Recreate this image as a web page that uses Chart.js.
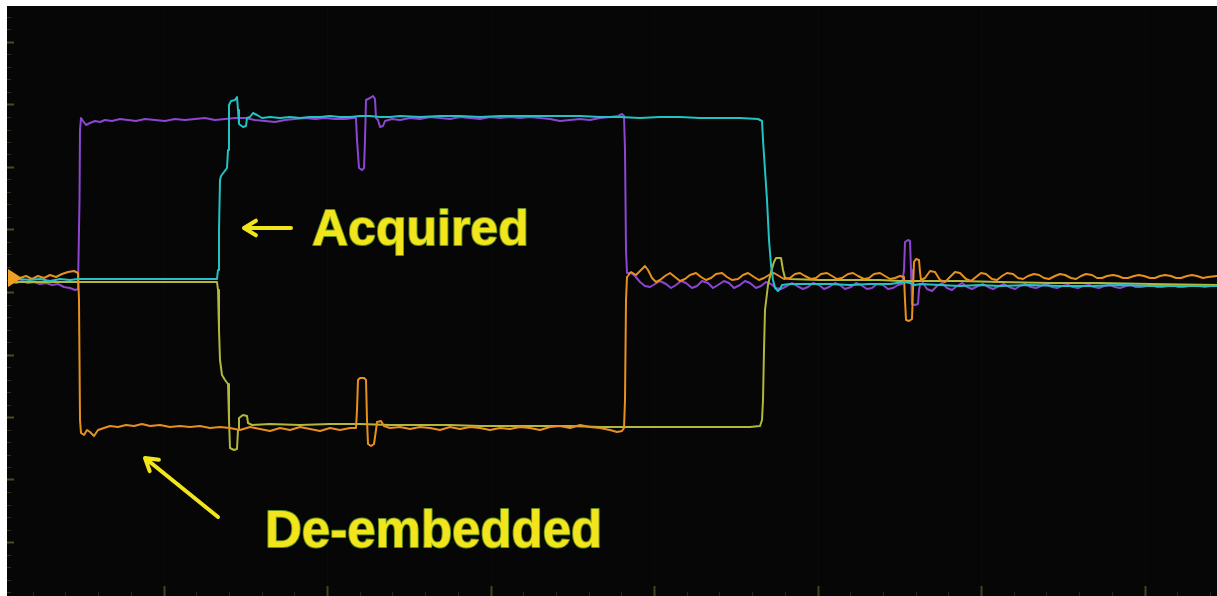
<!DOCTYPE html>
<html>
<head>
<meta charset="utf-8">
<style>
  html, body { margin: 0; padding: 0; background: #ffffff; }
  #wrap { position: relative; width: 1217px; height: 596px; }
</style>
<script src="https://cdn.jsdelivr.net/npm/chart.js@4.4.1/dist/chart.umd.min.js"></script>
</head>
<body>
<div id="wrap"><canvas id="scope"></canvas></div>
<script>
// Time axis in ns, amplitude in mV.
// Acquired channel 1 (violet trace)
const acquired1_t = [0.3,0.9,1.5,2.1,2.7,3.3,3.9,4.5,5.1,5.7,6.3,6.8,7.1,7.25,7.3,7.4,7.6,7.9,8.3,8.8,9.3,9.8,10.5,11.3,12.1,12.9,13.8,14.8,15.8,16.8,17.8,18.8,19.8,20.8,21.8,22.8,23.8,24.8,25.8,26.8,27.8,28.8,29.8,30.8,31.8,32.8,33.8,34.7,34.9,35.0,35.2,35.5,35.7,35.8,35.9,36.3,36.6,36.8,36.9,37.1,37.3,37.6,37.8,38.5,39.3,40.3,41.3,42.3,43.3,44.3,45.3,46.3,47.3,48.3,49.3,50.3,51.3,52.3,53.3,54.3,55.3,56.3,57.3,58.3,59.3,60.3,61.1,61.5,61.7,61.8,61.9,62.0,62.4,62.8,63.3,63.8,64.3,64.8,65.3,65.9,66.4,66.9,67.4,67.9,68.5,69.0,69.5,70.1,70.6,71.1,71.7,72.2,72.7,73.3,73.8,74.3,74.9,75.4,75.9,76.4,76.9,77.4,78.0,78.5,79.0,79.6,80.1,80.6,81.2,81.7,82.2,82.8,83.3,83.8,84.4,84.9,85.4,86.0,86.5,87.0,87.6,88.1,88.6,89.1,89.5,89.7,89.8,90.1,90.3,90.4,90.5,90.8,91.1,91.2,91.3,91.6,92.0,92.5,93.0,93.5,94.0,94.5,95.0,95.5,96.0,96.5,97.1,97.6,98.1,98.6,99.2,99.7,100.2,100.8,101.3,101.8,102.4,102.9,103.4,103.9,104.5,105.0,105.5,106.1,106.6,107.1,107.6,108.2,108.7,109.2,109.7,110.3,110.8,111.3,111.9,112.4,112.9,113.4,114.0,114.5,115.0,115.5,116.1,116.6,117.1,117.6,118.2,118.7,119.2,119.8,120.3,121.0];
const acquired1_mV = [-2,-6,-2,-6,-4,-8,-6,-10,-8,-14,-16,-20,-18,160,300,324,318,310,314,318,316,320,318,322,320,318,322,320,318,322,320,322,324,320,322,324,324,320,318,316,320,322,324,322,324,322,322,324,324,280,224,220,224,280,360,364,368,362,324,320,306,308,318,322,320,324,322,326,324,322,326,324,322,326,324,326,324,326,324,322,318,320,322,320,324,326,328,332,328,260,60,14,14,8,-4,-12,-14,-8,-2,-8,-16,-10,-2,-6,-16,-12,-2,-6,-16,-10,-2,-6,-16,-10,-2,-6,-16,-12,-4,-8,-16,-18,-12,-6,-12,-18,-14,-6,-10,-18,-14,-6,-10,-18,-14,-6,-10,-18,-16,-8,-10,-18,-16,-10,-8,20,76,80,78,20,-48,-50,-48,-20,-10,-6,-18,-22,-12,-6,-16,-20,-12,-6,-14,-18,-12,-8,-14,-18,-12,-8,-14,-18,-12,-8,-14,-16,-12,-8,-14,-16,-12,-10,-14,-16,-12,-10,-14,-16,-12,-10,-14,-16,-12,-10,-14,-14,-12,-10,-14,-14,-12,-10,-14,-14,-12,-10,-12,-14,-12,-12];

// Acquired channel 2 (cyan trace)
const acquired2_t = [0.3,1.3,2.3,3.3,4.3,5.3,6.3,7.1,8.3,11.3,14.3,17.3,20.3,21.0,21.1,21.2,21.3,21.4,21.7,22.0,22.1,22.2,22.4,22.8,23.0,23.1,23.2,23.6,23.9,24.0,24.3,24.6,25.0,25.5,26.3,27.3,28.3,29.3,30.3,31.3,32.3,33.3,34.3,35.3,36.3,37.3,38.3,39.3,41.3,43.3,45.3,47.3,49.3,51.3,53.3,55.3,57.3,59.3,61.3,63.3,65.3,67.3,69.3,71.3,73.3,75.1,75.5,75.6,75.8,76.0,76.2,76.4,76.6,76.8,77.1,77.3,77.5,78.3,80.3,82.3,84.3,86.3,88.3,89.8,90.3,90.8,91.3,93.3,95.3,97.3,99.3,102.3,105.3,108.3,111.3,114.3,117.3,121.0];
const acquired2_mV = [0,2,0,2,-2,2,0,2,2,2,2,2,2,2,20,100,200,208,216,224,260,350,358,360,366,340,312,306,308,324,326,334,330,324,326,324,326,324,326,326,328,326,326,328,328,326,326,328,326,328,328,326,328,328,328,328,328,326,326,324,326,326,324,324,324,322,318,280,220,160,80,30,0,-16,-22,-18,-10,-8,-8,-8,-10,-8,-8,-4,-6,-10,-8,-10,-12,-10,-12,-10,-12,-12,-10,-12,-12,-12];

// De-embedded channel 1 (orange trace)
const deembedded1_t = [1.3,1.9,2.5,3.1,3.7,4.3,4.9,5.5,6.1,6.7,7.1,7.2,7.3,7.4,7.7,8.0,8.3,8.7,9.1,9.7,10.3,11.1,11.9,12.7,13.5,14.3,15.3,16.3,17.3,18.3,19.3,20.3,21.3,22.3,23.3,24.3,25.3,26.3,27.3,28.3,29.3,30.3,31.3,32.3,33.3,34.3,34.9,35.0,35.1,35.3,35.7,35.9,36.0,36.1,36.4,36.7,36.9,37.0,37.4,37.7,38.3,39.3,40.3,41.3,42.3,43.3,44.3,45.3,46.3,47.3,48.3,49.3,50.3,51.3,52.3,53.3,54.3,55.3,56.3,57.3,58.3,59.3,60.3,61.0,61.5,61.7,61.8,61.9,62.0,62.4,62.9,63.4,63.8,64.1,64.5,64.9,65.3,65.8,66.3,66.8,67.3,67.8,68.3,68.9,69.4,69.9,70.4,70.9,71.5,72.0,72.5,73.1,73.6,74.1,74.7,75.2,75.7,76.2,76.7,77.2,77.7,78.3,78.8,79.3,79.8,80.4,80.9,81.4,82.0,82.5,83.0,83.5,84.1,84.6,85.1,85.7,86.2,86.7,87.3,87.8,88.3,88.8,89.3,89.7,89.8,89.9,90.2,90.5,90.6,90.7,90.9,91.2,91.3,91.4,91.8,92.3,92.8,93.3,93.8,94.3,94.8,95.3,95.9,96.4,96.9,97.4,97.9,98.5,99.0,99.5,100.0,100.6,101.1,101.6,102.1,102.7,103.2,103.7,104.2,104.8,105.3,105.8,106.4,106.9,107.4,107.9,108.5,109.0,109.5,110.0,110.6,111.1,111.6,112.1,112.7,113.2,113.7,114.3,114.8,115.3,115.8,116.4,116.9,117.4,118.0,118.5,119.0,119.6,120.1,121.0];
const deembedded1_mV = [4,8,2,8,4,10,6,12,16,18,14,-40,-280,-306,-310,-300,-304,-312,-300,-296,-292,-294,-290,-292,-288,-292,-290,-294,-292,-294,-292,-296,-294,-296,-300,-294,-298,-302,-296,-300,-294,-298,-302,-296,-300,-296,-296,-260,-200,-196,-196,-200,-280,-328,-332,-328,-300,-284,-282,-292,-296,-294,-298,-294,-296,-300,-294,-298,-294,-296,-300,-296,-298,-294,-296,-300,-294,-292,-296,-290,-294,-296,-300,-304,-302,-296,-240,-40,6,16,10,20,28,20,4,-4,0,8,14,6,-2,2,10,14,6,0,4,12,14,6,0,2,10,14,6,0,4,10,14,8,2,4,12,14,8,2,4,12,14,8,2,4,12,14,8,2,4,12,14,8,2,4,8,6,-40,-80,-82,-78,-20,36,42,40,16,0,4,18,16,0,-4,6,16,14,2,-2,6,14,12,2,0,8,14,12,4,2,8,12,10,4,2,8,12,10,4,2,8,12,10,4,4,8,10,8,4,4,8,10,8,4,4,8,10,8,4,4,8,10,8,4,6,8];

// De-embedded channel 2 (olive trace)
const deembedded2_t = [0.3,2.3,4.3,7.1,9.3,12.3,15.3,18.3,21.0,21.1,21.2,21.3,21.5,21.8,22.1,22.2,22.3,22.7,23.0,23.1,23.2,23.6,24.0,24.1,24.5,26.3,29.3,32.3,35.3,38.3,41.3,44.3,47.3,50.3,53.3,56.3,59.3,63.3,67.3,71.3,74.3,75.3,75.5,75.6,75.7,75.8,76.1,76.4,76.7,76.9,77.4,77.6,77.8,78.3,81.3,84.3,87.3,89.3,92.3,95.3,99.3,104.3,109.3,114.3,121.0];
const deembedded2_mV = [-4,-4,-4,-4,-4,-4,-4,-4,-4,-20,-100,-160,-190,-200,-208,-280,-336,-340,-338,-300,-276,-270,-272,-286,-290,-288,-290,-288,-288,-290,-290,-290,-292,-292,-292,-292,-294,-294,-294,-294,-294,-292,-280,-240,-140,-60,-10,16,36,44,44,20,4,2,0,0,0,-2,-2,-2,-4,-6,-6,-8,-10];

// Screen extents and graticule (1 div = 16.35 ns x 125 mV, 5 minor ticks per div)
const timeRange = [0, 121];
const ampRange = [-632, 548];
const gratTime = { ref: -0.7, div: 16.35 };
const gratAmp = { ref: -24, div: 125 };
const groundLevel_mV = 4;

const zip = (t, v) => t.map((x, i) => ({ x, y: v[i] }));

const scopePlugin = {
  id: 'scopeScreen',
  beforeDraw(chart) {
    const { ctx, chartArea: a, scales: { x, y } } = chart;
    ctx.save();
    ctx.fillStyle = '#060606';
    ctx.fillRect(a.left, a.top, a.right - a.left, a.bottom - a.top);

    // vertical graticule ticks along the left edge
    const yMinor = gratAmp.div / 5;
    const iy0 = Math.ceil((ampRange[0] - gratAmp.ref) / yMinor);
    const iy1 = Math.floor((ampRange[1] - gratAmp.ref) / yMinor);
    for (let i = iy0; i <= iy1; i++) {
      const major = i % 5 === 0;
      const py = Math.round(y.getPixelForValue(gratAmp.ref + i * yMinor)) + 0.5;
      ctx.strokeStyle = major ? 'rgba(100,90,40,0.8)' : 'rgba(70,64,32,0.7)';
      ctx.lineWidth = major ? 2 : 1;
      ctx.beginPath();
      ctx.moveTo(a.left, py);
      ctx.lineTo(a.left + (major ? 7 : 4), py);
      ctx.stroke();
    }

    // horizontal graticule ticks along the bottom edge
    const xMinor = gratTime.div / 5;
    const ix0 = Math.ceil((timeRange[0] - gratTime.ref) / xMinor);
    const ix1 = Math.floor((timeRange[1] - gratTime.ref) / xMinor);
    for (let i = ix0; i <= ix1; i++) {
      const major = i % 5 === 0;
      const px = Math.round(x.getPixelForValue(gratTime.ref + i * xMinor)) + 0.5;
      ctx.strokeStyle = major ? 'rgba(95,86,40,0.75)' : 'rgba(70,64,32,0.6)';
      ctx.lineWidth = major ? 2 : 1;
      ctx.beginPath();
      ctx.moveTo(px, a.bottom);
      ctx.lineTo(px, a.bottom - (major ? 10 : 4));
      ctx.stroke();
      if (major) {
        ctx.strokeStyle = 'rgba(80,76,45,0.07)';
        ctx.lineWidth = 1;
        ctx.beginPath();
        ctx.moveTo(px, a.top);
        ctx.lineTo(px, a.bottom - 10);
        ctx.stroke();
      }
    }
    ctx.restore();
  },
  afterDatasetsDraw(chart) {
    const { ctx, chartArea: a, scales: { x, y } } = chart;
    ctx.save();

    // ground level marker
    const gy = y.getPixelForValue(groundLevel_mV);
    ctx.fillStyle = '#f0a020';
    ctx.beginPath();
    ctx.moveTo(a.left + 1, gy - 9);
    ctx.lineTo(a.left + 15, gy);
    ctx.lineTo(a.left + 1, gy + 9);
    ctx.closePath();
    ctx.fill();

    const yellow = '#f3e51c';
    const edge = 'rgba(110,160,30,0.9)';

    function arrow(tx, ty, fx, fy) {
      const x1 = x.getPixelForValue(tx), y1 = y.getPixelForValue(ty);
      const x0 = x.getPixelForValue(fx), y0 = y.getPixelForValue(fy);
      const ang = Math.atan2(y1 - y0, x1 - x0);
      const head = 14, spread = 0.55;
      ctx.strokeStyle = yellow;
      ctx.lineWidth = 4;
      ctx.lineCap = 'round';
      ctx.lineJoin = 'round';
      ctx.beginPath();
      ctx.moveTo(x0, y0);
      ctx.lineTo(x1, y1);
      ctx.moveTo(x1 - head * Math.cos(ang - spread), y1 - head * Math.sin(ang - spread));
      ctx.lineTo(x1, y1);
      ctx.lineTo(x1 - head * Math.cos(ang + spread), y1 - head * Math.sin(ang + spread));
      ctx.stroke();
    }

    function label(text, tx, ty, size) {
      const px = x.getPixelForValue(tx), py = y.getPixelForValue(ty);
      ctx.font = 'bold ' + size + 'px "Liberation Sans", Arial, sans-serif';
      ctx.textBaseline = 'alphabetic';
      ctx.textAlign = 'left';
      ctx.lineWidth = 2;
      ctx.strokeStyle = edge;
      ctx.strokeText(text, px, py);
      ctx.fillStyle = yellow;
      ctx.fillText(text, px, py);
    }

    arrow(23.7, 104, 28.4, 104);
    label('Acquired', 30.5, 70, 50);
    arrow(13.8, -356, 21.1, -474);
    label('De-embedded', 25.8, -534, 51);

    ctx.restore();
  }
};

const lineStyle = {
  borderWidth: 2,
  pointRadius: 0,
  tension: 0,
  borderJoinStyle: 'round',
  fill: false
};

new Chart(document.getElementById('scope'), {
  type: 'line',
  data: {
    datasets: [
      { label: 'Acquired CH2', data: zip(acquired2_t, acquired2_mV), borderColor: '#24c3c3', order: 1, ...lineStyle },
      { label: 'De-embedded CH1', data: zip(deembedded1_t, deembedded1_mV), borderColor: '#e8901e', order: 2, ...lineStyle },
      { label: 'De-embedded CH2', data: zip(deembedded2_t, deembedded2_mV), borderColor: '#b2b83a', order: 3, ...lineStyle },
      { label: 'Acquired CH1', data: zip(acquired1_t, acquired1_mV), borderColor: '#8c46d2', order: 4, ...lineStyle }
    ]
  },
  options: {
    responsive: true,
    maintainAspectRatio: false,
    animation: false,
    parsing: true,
    layout: { padding: { left: 7, top: 6, right: 0, bottom: 0 } },
    plugins: { legend: { display: false }, tooltip: { enabled: false } },
    scales: {
      x: { type: 'linear', min: timeRange[0], max: timeRange[1], display: false },
      y: { type: 'linear', min: ampRange[0], max: ampRange[1], display: false }
    }
  },
  plugins: [scopePlugin]
});
</script>
</body>
</html>
